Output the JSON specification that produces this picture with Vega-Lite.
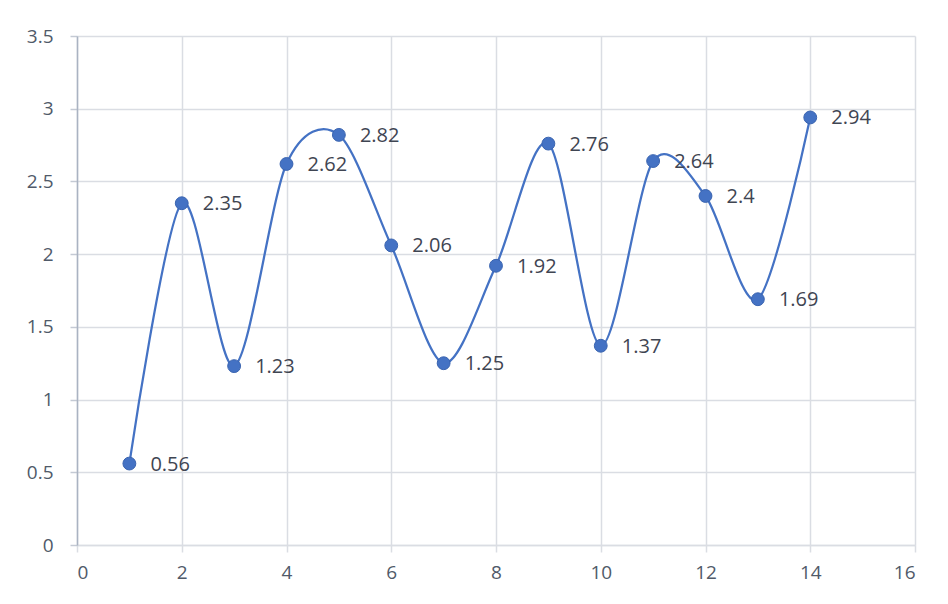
{
  "$schema": "https://vega.github.io/schema/vega-lite/v6.json",
  "width": 838,
  "height": 509,
  "autosize": "none",
  "padding": {"left": 77, "top": 36, "right": 33, "bottom": 59},
  "background": "white",
  "config": {
    "view": {"stroke": null},
    "font": "Open Sans"
  },
  "data": {
    "values": [
      {"x": 1, "y": 0.56},
      {"x": 2, "y": 2.35},
      {"x": 3, "y": 1.23},
      {"x": 4, "y": 2.62},
      {"x": 5, "y": 2.82},
      {"x": 6, "y": 2.06},
      {"x": 7, "y": 1.25},
      {"x": 8, "y": 1.92},
      {"x": 9, "y": 2.76},
      {"x": 10, "y": 1.37},
      {"x": 11, "y": 2.64},
      {"x": 12, "y": 2.4},
      {"x": 13, "y": 1.69},
      {"x": 14, "y": 2.94}
    ]
  },
  "encoding": {
    "x": {
      "field": "x",
      "type": "quantitative",
      "scale": {"domain": [0, 16], "nice": false},
      "axis": {
        "title": null,
        "values": [0, 2, 4, 6, 8, 10, 12, 14, 16],
        "grid": true,
        "gridColor": "#dadde3",
        "gridWidth": 1.5,
        "domainColor": "#dadde3",
        "domainWidth": 1.5,
        "tickColor": "#dadde3",
        "tickWidth": 1.5,
        "tickSize": 7,
        "labelPadding": 11,
        "labelFontSize": 19,
        "labelColor": "#505a69",
        "labelFont": "Open Sans"
      }
    },
    "y": {
      "field": "y",
      "type": "quantitative",
      "scale": {"domain": [0, 3.5], "nice": false},
      "axis": {
        "title": null,
        "values": [0, 0.5, 1, 1.5, 2, 2.5, 3, 3.5],
        "format": "~g",
        "grid": true,
        "gridColor": "#dadde3",
        "gridWidth": 1.5,
        "domainColor": "#aab3c2",
        "domainWidth": 1.5,
        "tickColor": "#c4cad4",
        "tickWidth": 1.5,
        "tickSize": 7,
        "labelPadding": 17,
        "labelFontSize": 19,
        "labelColor": "#505a69",
        "labelFont": "Open Sans"
      }
    }
  },
  "layer": [
    {
      "mark": {"type": "line", "interpolate": "cardinal", "tension": 0.1, "color": "#4472c4", "strokeWidth": 2.25}
    },
    {
      "mark": {"type": "point", "filled": true, "opacity": 1, "size": 165, "color": "#4472c4", "stroke": "#3a64b0", "strokeWidth": 1}
    },
    {
      "mark": {"type": "text", "align": "left", "baseline": "middle", "dx": 21, "dy": 1, "fontSize": 20, "color": "#3f4552", "font": "Open Sans"},
      "encoding": {"text": {"field": "y", "type": "quantitative", "format": "~g"}}
    }
  ]
}
